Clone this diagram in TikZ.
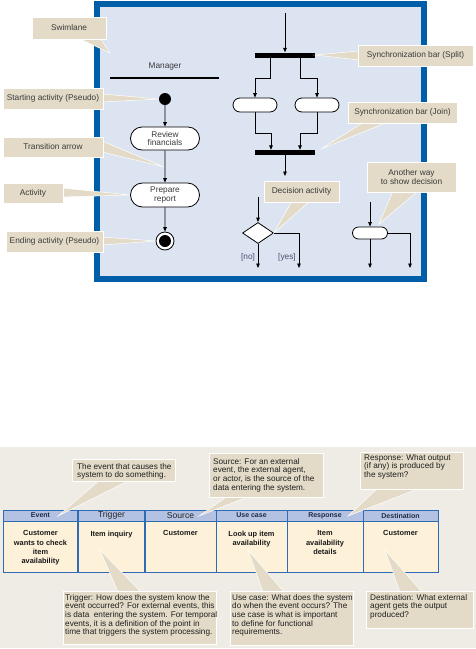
\documentclass[tikz,border=0pt]{standalone}
\usepackage{fontspec}
\setmainfont{Liberation Sans}
\usetikzlibrary{shapes.geometric,shapes.misc,arrows.meta,calc}
\definecolor{panelfill}{HTML}{DCE4F2}
\definecolor{panelline}{HTML}{005EA8}
\definecolor{callfill}{HTML}{E3DBC8}
\definecolor{bgbottom}{HTML}{EFECE6}
\definecolor{hdrfill}{HTML}{B3C1E3}
\definecolor{cellfill}{HTML}{FDF1DA}
\definecolor{tblline}{HTML}{2D6CB4}
\definecolor{ctext}{HTML}{3A3A3A}
\definecolor{navy}{HTML}{1F2A44}
\definecolor{lbl}{HTML}{50506E}
\begin{document}
\begin{tikzpicture}[x=1pt,y=-1pt,
  every node/.style={font=\fontsize{8.3}{8.4}\selectfont},
  cbox/.style={fill=callfill, draw=white, line width=0.8pt, inner sep=0pt, text=ctext, align=center},
  cboxb/.style={fill=callfill, draw=white, line width=0.8pt, inner sep=0pt, anchor=north west},
  ctxt/.style={font=\fontsize{8.2}{8.7}\selectfont, align=left, inner sep=0pt, anchor=north west, text=black!88},
  wedge/.style={fill=callfill, draw=white, line width=0.5pt},
  act/.style={rounded rectangle, draw=black, fill=white, line width=0.8pt, inner sep=0pt, align=center, text=ctext},
  flow/.style={draw=black, line width=0.8pt, -{Triangle[length=4.5pt,width=3.6pt]}},
  bar/.style={fill=black, minimum width=60pt, minimum height=5pt, inner sep=0pt},
  hdr/.style={draw=tblline, fill=hdrfill, line width=1pt, inner sep=0pt, minimum height=11pt, text=navy, font=\bfseries\fontsize{7}{8}\selectfont},
  hdrbig/.style={hdr, text=black!85, font=\fontsize{8.6}{9}\selectfont},
  cell/.style={draw=tblline, fill=cellfill, line width=1pt, inner sep=0pt, minimum height=51pt},
  celltxt/.style={font=\bfseries\fontsize{7.4}{9.3}\selectfont, align=center, inner sep=0pt, anchor=north, text=black!90}
]
\useasboundingbox (0,0) rectangle (476,649);
\fill[white] (0,0) rectangle (476,649);

% ===== top panel =====
\node[draw=panelline, fill=panelfill, line width=6pt, minimum width=327pt, minimum height=275pt, inner sep=0pt] (frame) at (260.5,141.5) {};

\node[text=ctext] (mgr) at (165,67) {Manager};
\coordinate (lnL) at (110,78);
\coordinate (lnR) at (219,78);
\draw[line width=1.1pt] (lnL) -- (lnR);

\node[circle, fill=black, minimum size=12pt, inner sep=0pt] (start) at (165,99) {};
\node[act, minimum width=69pt, minimum height=23pt] (rev) at (165,138.5) {Review\\financials};
\node[act, minimum width=69pt, minimum height=24pt] (prep) at (165,195) {Prepare\\report};
\node[circle, draw=black, line width=0.8pt, fill=white, minimum size=18pt, inner sep=0pt] (endo) at (165,241) {};
\node[circle, fill=black, minimum size=12pt, inner sep=0pt] (endi) at (165,241) {};
\draw[flow] (start) -- (rev);
\draw[flow] (rev) -- (prep);
\draw[flow] (prep) -- (endo);

% fork / join
\coordinate (topin) at (285,13);
\node[bar] (split) at (285,55) {};
\draw[flow] (topin) -- (split.north);
\node[act, minimum width=44pt, minimum height=14pt] (a1) at (255,105) {};
\node[act, minimum width=44pt, minimum height=14pt] (a2) at (317,105) {};
\draw[flow] ($(split.south)+(-15,0)$) -- ++(0,21) -| (a1.north);
\draw[flow] ($(split.south)+(15,0)$) -- ++(0,21) -| (a2.north);
\node[bar] (join) at (285,152.5) {};
\draw[flow] (a1.south) -- ++(0,21) -| ($(join.north)+(-14,0)$);
\draw[flow] (a2.south) -- ++(0,21) -| ($(join.north)+(15,0)$);
\coordinate (jout) at (285,176);
\draw[flow] (join.south) -- (jout);

% decision
\node[diamond, draw=black, fill=white, line width=0.8pt, minimum width=31pt, minimum height=21pt, inner sep=0pt] (dec) at (258,233) {};
\coordinate (decin) at (258,197);
\coordinate (decno) at (258,268);
\coordinate (decyes) at (299,268);
\draw[flow] (decin) -- (dec.north);
\draw[flow] (dec.south) -- (decno);
\draw[flow] (dec.east) -| (decyes);
\node[text=lbl] (no) at (248,257) {[no]};
\node[text=lbl] (yes) at (287,257) {[yes]};

\node[act, minimum width=35pt, minimum height=12pt] (alt) at (370,233) {};
\coordinate (altin) at (370,202);
\coordinate (alta) at (370,268);
\coordinate (altb) at (410,268);
\draw[flow] (altin) -- (alt.north);
\draw[flow] (alt.south) -- (alta);
\draw[flow] (alt.east) -| (altb);

% top callouts
\draw[wedge] (78,38) -- (100,38) -- (110,53) -- cycle;
\node[cbox, minimum width=74pt, minimum height=22pt] (cswim) at (69,28) {Swimlane};
\draw[wedge] (102,94) -- (102,102) -- (start.west) -- cycle;
\node[cbox, minimum width=100pt, minimum height=21pt] (cstart) at (53,98.5) {Starting activity (Pseudo)};
\draw[wedge] (102,141) -- (102,152) -- (164,167) -- cycle;
\node[cbox, minimum width=100pt, minimum height=20pt] (ctrans) at (53,147) {Transition arrow};
\draw[wedge] (62,188) -- (62,197) -- (prep.west) -- cycle;
\node[cbox, minimum width=60pt, minimum height=20pt] (cact) at (33,193) {Activity};
\draw[wedge] (102,237) -- (102,245) -- (endo.west) -- cycle;
\node[cbox, minimum width=97pt, minimum height=21pt] (cend) at (54.5,241.5) {Ending activity (Pseudo)};
\draw[wedge] (359,51) -- (359,60) -- (split.east) -- cycle;
\node[cbox, minimum width=115pt, minimum height=21pt] (csplit) at (415.5,55.5) {Synchronization bar (Split)};
\draw[wedge] (364,122) -- (388,122) -- (321,149) -- cycle;
\node[cbox, minimum width=109pt, minimum height=21pt] (cjoin) at (402.5,112.5) {Synchronization bar (Join)};
\draw[wedge] (292,201) -- (310,201) -- (dec.east) -- cycle;
\node[cbox, minimum width=75pt, minimum height=21pt] (cdec) at (301.5,191.5) {Decision activity};
\draw[wedge] (393,191) -- (418,191) -- (379,224) -- cycle;
\node[cbox, minimum width=89pt, minimum height=30pt] (calt) at (411.5,177) {Another way\\to show decision};

% ===== bottom panel =====
\node[fill=bgbottom, minimum width=476pt, minimum height=201pt, inner sep=0pt, anchor=north west] (bg) at (0,447) {};

% table
\node[cell, minimum width=75pt] (b1) at (40.5,546.5) {};
\node[cell, minimum width=67pt] (b2) at (111.5,546.5) {};
\node[cell, minimum width=71pt] (b3) at (180.5,546.5) {};
\node[cell, minimum width=71pt] (b4) at (251.5,546.5) {};
\node[cell, minimum width=76pt] (b5) at (325,546.5) {};
\node[cell, minimum width=75pt] (b6) at (400.5,546.5) {};
\node[hdr, minimum width=75pt] (h1) at (40.5,515.5) {Event};
\node[hdrbig, minimum width=67pt] (h2) at (111.5,515.5) {Trigger};
\node[hdrbig, minimum width=71pt] (h3) at (180.5,515.5) {Source};
\node[hdr, minimum width=71pt] (h4) at (251.5,515.5) {Use case};
\node[hdr, minimum width=76pt] (h5) at (325,515.5) {Response};
\node[hdr, minimum width=75pt] (h6) at (400.5,515.5) {Destination};
\draw[tblline, line width=1.8pt] (h2.north west) -- (b2.south west);
\draw[tblline, line width=1.8pt] (h3.north west) -- (b3.south west);
\node[celltxt] (t1) at ($(b1.north)+(0,10)$) {Customer\\wants to check\\item\\availability};
\node[celltxt] (t2) at ($(b2.north)+(0,10)$) {Item inquiry};
\node[celltxt] (t3) at ($(b3.north)+(0,10)$) {Customer};
\node[celltxt] (t4) at ($(b4.north)+(0,10)$) {Look up item\\availability};
\node[celltxt] (t5) at ($(b5.north)+(0,10)$) {Item\\availability\\details};
\node[celltxt] (t6) at ($(b6.north)+(0,10)$) {Customer};

% bottom callouts
\coordinate (tipev) at (58,516);
\draw[wedge] (100,480) -- (130,480) -- (tipev) -- cycle;
\node[cboxb, minimum width=103pt, minimum height=22pt] (cev) at (72,459) {};
\node[ctxt] (cevt) at ($(cev.north west)+(5,4)$) {The event that causes the\\system to do something.};

\coordinate (tipsrc) at (199,516);
\draw[wedge] (228,496) -- (250,496) -- (tipsrc) -- cycle;
\node[cboxb, minimum width=114pt, minimum height=44pt] (csrc) at (209,453) {};
\node[ctxt] (csrct) at ($(csrc.north west)+(4,5)$) {Source: For an external\\event, the external agent,\\or actor, is the source of the\\data entering the system.};

\coordinate (tipresp) at (348,516);
\draw[wedge] (378,488) -- (420,488) -- (tipresp) -- cycle;
\node[cboxb, minimum width=103pt, minimum height=37pt] (cresp) at (360,452) {};
\node[ctxt] (cresptt) at ($(cresp.north west)+(4,2)$) {Response: What output\\(if any) is produced by\\the system?};

\coordinate (tiptrig) at (100,550);
\draw[wedge] (118,592) -- (141,592) -- (tiptrig) -- cycle;
\node[cboxb, minimum width=153pt, minimum height=53pt] (ctrig) at (63,591) {};
\node[ctxt] (ctrigt) at ($(ctrig.north west)+(2,3)$) {Trigger: How does the system know the\\event occurred? For external events, this\\is data\ \ entering the system. For temporal\\events, it is a definition of the point in\\time that triggers the system processing.};

\coordinate (tipuse) at (248,550);
\draw[wedge] (263,592) -- (284,592) -- (tipuse) -- cycle;
\node[cboxb, minimum width=123pt, minimum height=54pt] (cuse) at (230,591) {};
\node[ctxt] (cuset) at ($(cuse.north west)+(2,3)$) {Use case: What does the system\\do when the event occurs? The\\use case is what is important\\to define for functional\\requirements.};

\coordinate (tipdest) at (385,550);
\draw[wedge] (400,592) -- (422,592) -- (tipdest) -- cycle;
\node[cboxb, minimum width=107pt, minimum height=37pt] (cdest) at (366,591) {};
\node[ctxt] (cdestt) at ($(cdest.north west)+(4,3)$) {Destination: What external\\agent gets the output\\produced?};
\end{tikzpicture}
\end{document}
